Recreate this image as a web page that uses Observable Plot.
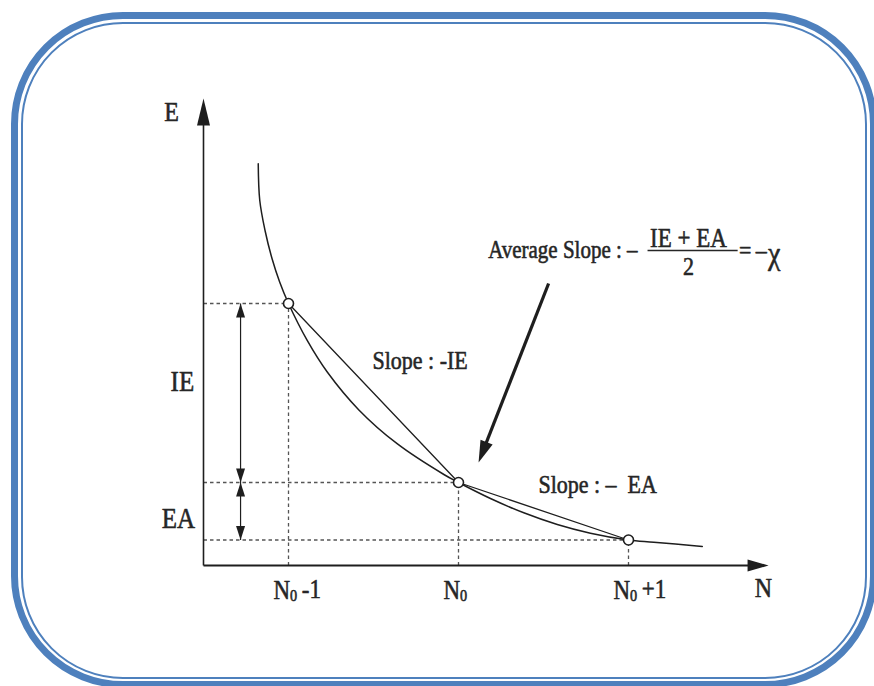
<!DOCTYPE html>
<html>
<head>
<meta charset="utf-8">
<script src="https://cdn.jsdelivr.net/npm/d3@7"></script>
<script src="https://cdn.jsdelivr.net/npm/@observablehq/plot@0.6"></script>
<style>
  html, body { margin: 0; padding: 0; background: #fff; }
  #wrap { position: relative; width: 874px; height: 686px; overflow: hidden; background: #fff; }
  #wrap svg { position: absolute; left: 0; top: 0; }
  .frame-outer { position: absolute; left: 11px; top: 12px; width: 866px; height: 676px;
    box-sizing: border-box; border: 7px solid #4e80bd; border-radius: 112px; }
  .frame-inner { position: absolute; left: 21px; top: 22px; width: 846px; height: 657px;
    box-sizing: border-box; border: 2.5px solid #4e80bd; border-radius: 102px; }
</style>
</head>
<body>
<div id="wrap"></div>
<script>
// ---- data (N measured relative to N0, E in arbitrary energy units) ----
const curveN = [-1.178, -1.169, -1.138, -1.097, -1.052, -1.0, -0.89, -0.772, -0.586, -0.361, -0.086, 0, 0.188, 0.384, 0.581, 0.776, 1.0, 1.149, 1.434];
const curveE = [4.017, 3.65, 3.35, 3.07, 2.835, 2.62, 2.251, 1.935, 1.556, 1.218, 0.91, 0.83, 0.67, 0.527, 0.41, 0.323, 0.255, 0.233, 0.19];
const pointN = [-1, 0, 1];
const pointE = [2.62, 0.83, 0.255];
const tickN = [-1, 0, 1];
const tickLabels = ["N\u2080 -1", "N\u2080", "N\u2080 +1"];
const axisOrigin = {N: -1.5, E: 0};
const axisEnd = {N: 1.824, E: 4.67};
const pointerFrom = {N: 0.53, E: 2.82};
const pointerTo = {N: 0.118, E: 1.03};

const curve = curveN.map((n, i) => ({N: n, E: curveE[i]}));
const pts = pointN.map((n, i) => ({N: n, E: pointE[i]}));
const ticks = tickN.map((n, i) => ({N: n, label: tickLabels[i]}));

const xDomain = [-1, 1], xRange = [288, 628];
const yDomain = [0, 4.67], yRange = [565, 98];
const sx = d3.scaleLinear(xDomain, xRange);
const sy = d3.scaleLinear(yDomain, yRange);

// filled arrowhead symbol: tip at origin, pointing up
const head = (len, half) => ({
  draw(ctx) { ctx.moveTo(0, 0); ctx.lineTo(-half, len); ctx.lineTo(half, len); ctx.closePath(); }
});

const ink = "#1e1e1e";
const txt = "#262626";
const font = "Liberation Serif, Times New Roman, serif";
const dash = {stroke: "#555", strokeWidth: 1.3, strokeDasharray: "3.5,3"};
const T = {fill: txt, stroke: txt, strokeWidth: 0.5};

// double arrows for IE and EA
const arrowX = -1.282;
const dbl = [
  {E: pointE[0], rot: 0}, {E: pointE[1], rot: 180},
  {E: pointE[1], rot: 0}, {E: pointE[2], rot: 180}
];

// big pointer arrow: direction in pixel space
const px0 = sx(pointerFrom.N), py0 = sy(pointerFrom.E);
const px1 = sx(pointerTo.N), py1 = sy(pointerTo.E);
const plen = Math.hypot(px1 - px0, py1 - py0);
const pAngle = Math.atan2(px1 - px0, -(py1 - py0)) * 180 / Math.PI;
const headLen = 21;
const pointerLineEnd = {
  N: sx.invert(px1 - (px1 - px0) * headLen / plen),
  E: sy.invert(py1 - (py1 - py0) * headLen / plen)
};

const chart = Plot.plot({
  width: 874,
  height: 686,
  margin: 0,
  style: {background: "transparent", fontFamily: font},
  x: {domain: xDomain, range: xRange, axis: null},
  y: {domain: yDomain, range: yRange, axis: null},
  marks: [
    // dashed guides
    Plot.link(pts, {x1: axisOrigin.N, x2: "N", y1: "E", y2: "E", ...dash}),
    Plot.link(pts, {x1: "N", x2: "N", y1: axisOrigin.E, y2: "E", ...dash}),
    // axes
    Plot.link([0], {x1: axisOrigin.N, x2: axisOrigin.N, y1: axisOrigin.E, y2: axisEnd.E - 0.2, stroke: ink, strokeWidth: 1.6}),
    Plot.link([0], {x1: axisOrigin.N, x2: axisEnd.N - 0.1, y1: axisOrigin.E, y2: axisOrigin.E, stroke: ink, strokeWidth: 1.8}),
    Plot.dot([0], {x: axisOrigin.N, y: axisEnd.E, symbol: head(27, 6.5), r: 5, fill: ink, stroke: "none"}),
    Plot.dot([0], {x: axisEnd.N, y: axisOrigin.E, symbol: head(21, 6), r: 5, rotate: 90, fill: ink, stroke: "none"}),
    // IE / EA double arrows
    Plot.link([0], {x1: arrowX, x2: arrowX, y1: pointE[0], y2: pointE[2], stroke: ink, strokeWidth: 1.2}),
    Plot.dot(dbl, {x: arrowX, y: "E", rotate: "rot", symbol: head(14, 4.5), r: 5, fill: ink, stroke: "none"}),
    // energy curve
    Plot.line(curve, {x: "N", y: "E", curve: "catmull-rom", stroke: ink, strokeWidth: 1.5}),
    // chords
    Plot.line(pts, {x: "N", y: "E", stroke: ink, strokeWidth: 1.3}),
    // points
    Plot.dot(pts, {x: "N", y: "E", r: 5, fill: "white", stroke: ink, strokeWidth: 1.6}),
    // pointer arrow
    Plot.link([0], {x1: pointerFrom.N, y1: pointerFrom.E, x2: pointerLineEnd.N, y2: pointerLineEnd.E, stroke: ink, strokeWidth: 3.2}),
    Plot.dot([0], {x: pointerTo.N, y: pointerTo.E, symbol: head(headLen + 1, 6.5), r: 5, rotate: pAngle, fill: ink, stroke: "none"}),
    // tick labels
    Plot.text(ticks, {x: "N", y: -0.25, text: "label", textAnchor: "start", dx: -15, fontSize: 23, ...T}),
    // axis titles
    Plot.text(["E"], {x: -1.688, y: 4.53, text: d => d, fontSize: 24, ...T}),
    Plot.text(["N"], {x: 1.794, y: -0.23, text: d => d, fontSize: 24, ...T}),
    Plot.text(["IE"], {x: -1.624, y: 1.84, text: d => d, fontSize: 25, ...T}),
    Plot.text(["EA"], {x: -1.647, y: 0.47, text: d => d, fontSize: 25, ...T}),
    // slope labels
    Plot.text(["Slope : -IE"], {x: -0.506, y: 2.05, text: d => d, textAnchor: "start", fontSize: 22, ...T}),
    Plot.text(["Slope : \u2013  EA"], {x: 0.47, y: 0.81, text: d => d, textAnchor: "start", fontSize: 22, ...T}),
    // average slope formula
    Plot.text(["Average Slope : \u2013"], {x: 1.053, y: 3.15, text: d => d, textAnchor: "end", fontSize: 21, ...T}),
    Plot.text(["IE + EA"], {x: 1.353, y: 3.27, text: d => d, fontSize: 23, ...T}),
    Plot.link([0], {x1: 1.112, x2: 1.642, y1: 3.15, y2: 3.15, stroke: txt, strokeWidth: 1.4}),
    Plot.text(["2"], {x: 1.353, y: 2.99, text: d => d, fontSize: 22, ...T}),
    Plot.text(["=\u2009\u2013"], {x: 1.65, y: 3.15, text: d => d, textAnchor: "start", fontSize: 22, ...T}),
    Plot.text(["\u03C7"], {x: 1.82, y: 3.12, text: d => d, textAnchor: "start", fontSize: 28, ...T})
  ]
});

const svg = d3.select(chart);
// render the N0 subscript as a real tspan
svg.selectAll("text").each(function() {
  const s = this.textContent;
  if (s.includes("\u2080")) {
    const [a, b] = s.split("\u2080");
    const t = d3.select(this);
    t.text(null);
    t.append("tspan").text(a);
    t.append("tspan").attr("font-size", "62%").attr("dy", "0.12em").text("0");
    if (b) t.append("tspan").attr("dy", "-0.12em").text(b.replace(/^ /, "\u2009"));
  }
});
// keep double spaces, and stretch glyphs slightly upward like the scanned original
svg.selectAll("text").each(function() {
  this.setAttribute("xml:space", "preserve");
  this.style.whiteSpace = "pre";
  const tr = this.getAttribute("transform");
  if (tr) {
    this.setAttribute("transform", tr + " scale(1,1.15)");
  } else {
    const x = +(this.getAttribute("x") || 0), y = +(this.getAttribute("y") || 0);
    this.removeAttribute("x"); this.removeAttribute("y");
    this.setAttribute("transform", `translate(${x},${y}) scale(1,1.15)`);
  }
});

const wrap = document.getElementById("wrap");
wrap.appendChild(chart);
const fo = document.createElement("div"); fo.className = "frame-outer"; wrap.appendChild(fo);
const fi = document.createElement("div"); fi.className = "frame-inner"; wrap.appendChild(fi);
</script>
</body>
</html>
